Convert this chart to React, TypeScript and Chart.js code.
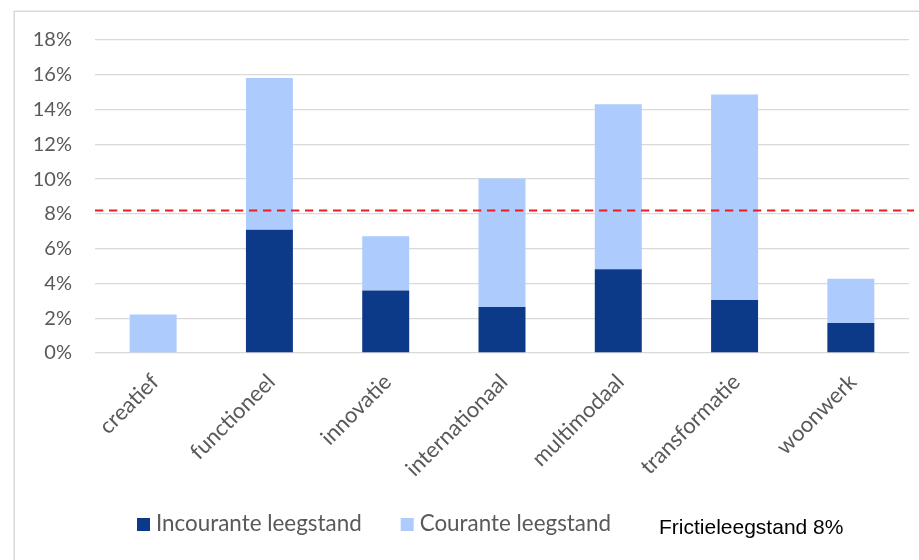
import React, { useEffect, useRef } from "react";
import { Chart, registerables } from "chart.js";

Chart.register(...registerables);

const categories = [
  "creatief",
  "functioneel",
  "innovatie",
  "internationaal",
  "multimodaal",
  "transformatie",
  "woonwerk",
];
const incourant = [0, 7.09, 3.6, 2.64, 4.81, 3.05, 1.72];
const courant = [2.22, 8.73, 3.12, 7.4, 9.5, 11.82, 2.55];
const seriesLabels = ["Incourante leegstand", "Courante leegstand"];
const seriesColors = ["#0c3a89", "#adcbfd"];
const frictieLabel = "Frictieleegstand 8%";
const frictieValue = 8.2;
const yMax = 18;
const yStep = 2;

const framePlugin = {
  id: "frame",
  beforeDraw(chart: any) {
    const ctx = chart.ctx;
    ctx.save();
    ctx.strokeStyle = "#d9d9d9";
    ctx.lineWidth = 1.5;
    ctx.strokeRect(14.25, 11.25, chart.width + 20, chart.height + 20);
    ctx.restore();
  },
};

const frictiePlugin = {
  id: "frictie",
  afterDatasetsDraw(chart: any) {
    const { ctx, chartArea, scales } = chart;
    const y = scales.y.getPixelForValue(frictieValue);
    ctx.save();
    ctx.strokeStyle = "#ee1c25";
    ctx.lineWidth = 2;
    ctx.setLineDash([8.3, 5.7]);
    ctx.beginPath();
    ctx.moveTo(chartArea.left, y);
    ctx.lineTo(chartArea.right + 5, y);
    ctx.stroke();
    ctx.restore();
  },
};

const legendPlugin = {
  id: "customLegend",
  afterDraw(chart: any) {
    const ctx = chart.ctx;
    ctx.save();
    let x = 137;
    const boxTop = 518;
    const box = 13;
    ctx.textBaseline = "alphabetic";
    ctx.textAlign = "left";
    chart.data.datasets.forEach((ds: any) => {
      ctx.fillStyle = ds.backgroundColor;
      ctx.fillRect(x, boxTop, box, box);
      x += box + 6;
      ctx.font = "22.4px Lato, sans-serif";
      ctx.fillStyle = "#595959";
      ctx.fillText(ds.label, x, 531);
      x += ctx.measureText(ds.label).width + 39;
    });
    ctx.font = "21px 'Liberation Sans', Arial, sans-serif";
    ctx.fillStyle = "#000000";
    ctx.fillText(frictieLabel, 659, 534);
    ctx.restore();
  },
};

export default function App() {
  const ref = useRef<HTMLCanvasElement | null>(null);

  useEffect(() => {
    if (!ref.current) return;
    const chart = new Chart(ref.current, {
      type: "bar",
      data: {
        labels: categories,
        datasets: [
          {
            label: seriesLabels[0],
            data: incourant,
            backgroundColor: seriesColors[0],
            categoryPercentage: 1,
            barPercentage: 0.404,
          },
          {
            label: seriesLabels[1],
            data: courant,
            backgroundColor: seriesColors[1],
            categoryPercentage: 1,
            barPercentage: 0.404,
          },
        ],
      },
      options: {
        animation: false,
        responsive: true,
        maintainAspectRatio: false,
        layout: { padding: { left: 20, right: 10, top: 40, bottom: 0 } },
        plugins: {
          legend: { display: false },
          tooltip: { enabled: false },
        },
        scales: {
          x: {
            stacked: true,
            grid: { display: false, drawTicks: false },
            border: { display: false },
            ticks: {
              color: "#595959",
              font: { family: "Lato, sans-serif", size: 22 },
              minRotation: 45,
              maxRotation: 45,
              padding: 16,
              labelOffset: 2,
            },
            afterFit(scale: any) {
              scale.height = 207;
            },
          },
          y: {
            stacked: true,
            min: 0,
            max: yMax,
            grid: { color: "#d9d9d9", lineWidth: 1.3, drawTicks: false },
            border: { display: false },
            ticks: {
              stepSize: yStep,
              color: "#595959",
              font: { family: "Lato, sans-serif", size: 20 },
              padding: 23,
              callback: (v: any) => `${v}%`,
            },
            afterFit(scale: any) {
              scale.width = 75;
            },
          },
        },
      },
      plugins: [framePlugin, frictiePlugin, legendPlugin],
    });
    return () => chart.destroy();
  }, []);

  return (
    <div style={{ position: "absolute", left: 0, top: 0, width: 919, height: 560 }}>
      <canvas ref={ref} />
    </div>
  );
}
